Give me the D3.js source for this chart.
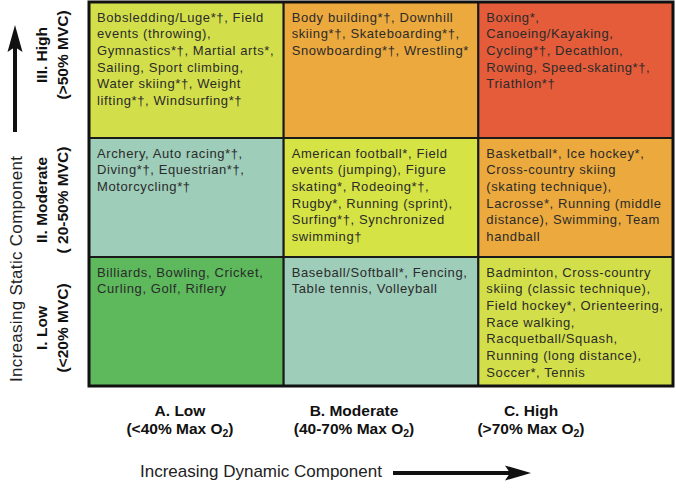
<!DOCTYPE html>
<html><head><meta charset="utf-8">
<script src="https://cdn.jsdelivr.net/npm/d3@7"></script>
<style>
html,body{margin:0;padding:0;background:#fff;}
svg{display:block;}
</style></head>
<body>
<svg id="chart" width="676" height="488"></svg>
<script>
// ---------- data ----------
const dynamicLevels = ["A. Low", "B. Moderate", "C. High"];
const dynamicRanges = ["(<40% Max O", "(40-70% Max O", "(>70% Max O"];
const staticLevels = ["III. High", "II. Moderate", "I. Low"];
const staticRanges = ["(>50% MVC)", "( 20-50% MVC)", "(<20% MVC)"];
const cellColors = [
  ["#d3df4a", "#eca93e", "#e45c3a"],
  ["#9ecdb9", "#d6e345", "#eca93e"],
  ["#5db95c", "#9ecdb9", "#d3df4a"]
];
const cellLines = [
  [
    ["Bobsledding/Luge*†, Field", "events (throwing),", "Gymnastics*†, Martial arts*,", "Sailing, Sport climbing,", "Water skiing*†, Weight", "lifting*†, Windsurfing*†"],
    ["Body building*†, Downhill", "skiing*†, Skateboarding*†,", "Snowboarding*†, Wrestling*"],
    ["Boxing*,", "Canoeing/Kayaking,", "Cycling*†, Decathlon,", "Rowing, Speed-skating*†,", "Triathlon*†"]
  ],
  [
    ["Archery, Auto racing*†,", "Diving*†, Equestrian*†,", "Motorcycling*†"],
    ["American football*, Field", "events (jumping), Figure", "skating*, Rodeoing*†,", "Rugby*, Running (sprint),", "Surfing*†, Synchronized", "swimming†"],
    ["Basketball*, Ice hockey*,", "Cross-country skiing", "(skating technique),", "Lacrosse*, Running (middle", "distance), Swimming, Team", "handball"]
  ],
  [
    ["Billiards, Bowling, Cricket,", "Curling, Golf, Riflery"],
    ["Baseball/Softball*, Fencing,", "Table tennis, Volleyball"],
    ["Badminton, Cross-country", "skiing (classic technique),", "Field hockey*, Orienteering,", "Race walking,", "Racquetball/Squash,", "Running (long distance),", "Soccer*, Tennis"]
  ]
];
const xTitle = "Increasing Dynamic Component";
const yTitle = "Increasing Static Component";

// ---------- layout ----------
const gridLeft = 89, gridRight = 673;
const rowEdges = [2, 138, 257, 386];
const rowLabelCenters = [55, 200, 328];
const colLabelCenters = [180, 354, 531];
const font = "'Liberation Sans', Arial, Helvetica, sans-serif";

const svg = d3.select("#chart");
const x = d3.scaleBand().domain(dynamicLevels).range([gridLeft, gridRight]);
const yTop = d3.scaleOrdinal().domain(staticLevels).range(rowEdges.slice(0, 3));
const yBot = d3.scaleOrdinal().domain(staticLevels).range(rowEdges.slice(1));

const cells = [];
staticLevels.forEach((s, r) => dynamicLevels.forEach((d, c) => {
  cells.push({s, d, color: cellColors[r][c], lines: cellLines[r][c]});
}));

const g = svg.append("g");
const cg = g.selectAll("g.cell").data(cells).join("g").attr("class", "cell");
cg.append("rect")
  .attr("x", d => x(d.d)).attr("y", d => yTop(d.s))
  .attr("width", x.bandwidth()).attr("height", d => yBot(d.s) - yTop(d.s))
  .attr("fill", d => d.color)
  .attr("stroke", "#1a1a1a").attr("stroke-width", 2);
cg.append("text")
  .attr("font-family", font).attr("font-size", 13).attr("fill", "#2b2b2b")
  .attr("letter-spacing", 0.6)
  .selectAll("tspan").data(d => d.lines.map((t, i) => ({t, i, d}))).join("tspan")
  .attr("x", o => x(o.d.d) + 8)
  .attr("y", o => yTop(o.d.s) + 19.5 + o.i * 16.7)
  .text(o => o.t);

// outer border
g.append("rect").attr("x", gridLeft).attr("y", rowEdges[0])
  .attr("width", gridRight - gridLeft).attr("height", rowEdges[3] - rowEdges[0])
  .attr("fill", "none").attr("stroke", "#111").attr("stroke-width", 3);

// column labels
const colLab = svg.selectAll("text.col").data(dynamicLevels).join("text")
  .attr("class", "col").attr("font-family", font).attr("font-weight", "bold")
  .attr("font-size", 15.5).attr("fill", "#111").attr("text-anchor", "middle");
colLab.append("tspan").attr("x", (d, i) => colLabelCenters[i]).attr("y", 416).text(d => d);
colLab.append("tspan").attr("x", (d, i) => colLabelCenters[i]).attr("y", 434).text((d, i) => dynamicRanges[i])
  .append("tspan").attr("font-size", 10.5).attr("dy", 3).text("2");
colLab.append("tspan").attr("dy", -3).text(")");

// row labels
const rowLab = svg.selectAll("text.row").data(staticLevels).join("text")
  .attr("class", "row").attr("font-family", font).attr("font-weight", "bold")
  .attr("font-size", 15.5).attr("fill", "#111").attr("text-anchor", "middle")
  .attr("transform", (d, i) => `translate(0,${rowLabelCenters[i]}) rotate(-90)`);
rowLab.append("tspan").attr("x", 0).attr("y", 47).text(d => d);
rowLab.append("tspan").attr("x", 0).attr("y", 68).text((d, i) => staticRanges[i]);

// axis titles with arrows
svg.append("text").attr("font-family", font).attr("font-size", 17).attr("fill", "#222")
  .attr("x", 140).attr("y", 477).text(xTitle);
svg.append("line").attr("x1", 393).attr("x2", 512).attr("y1", 473).attr("y2", 473)
  .attr("stroke", "#111").attr("stroke-width", 4);
svg.append("path").attr("d", "M505,465.5 L531,473 L505,480.5 L510,473 Z").attr("fill", "#111");

svg.append("text").attr("font-family", font).attr("font-size", 17).attr("fill", "#222")
  .attr("letter-spacing", 0.3)
  .attr("transform", "translate(22,382) rotate(-90)").text(yTitle);
svg.append("line").attr("x1", 15).attr("x2", 15).attr("y1", 132).attr("y2", 45)
  .attr("stroke", "#111").attr("stroke-width", 4);
svg.append("path").attr("d", "M7.5,52 L15,25 L22.5,52 L15,47 Z").attr("fill", "#111");
</script>
</body></html>
